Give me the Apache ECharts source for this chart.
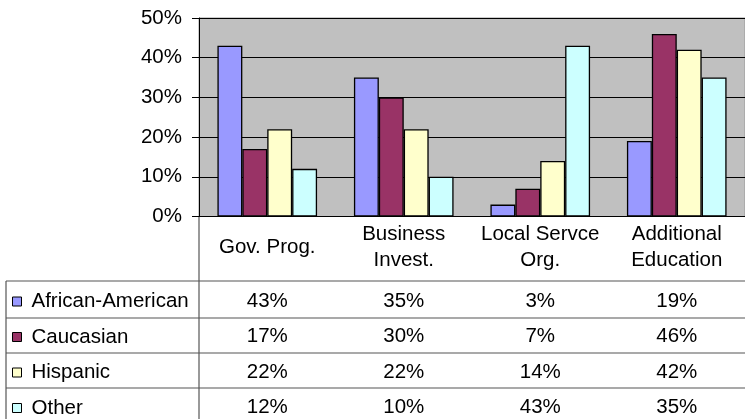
<!DOCTYPE html>
<html lang="en">
<head>
    <meta charset="UTF-8">
    <title>Chart</title>
    <script src="https://cdn.jsdelivr.net/npm/echarts@6/dist/echarts.min.js"></script>
    <style>
        html, body { margin: 0; padding: 0; background: #fff; }
    </style>
</head>
<body>
<div id="chart" style="width: 745px;height:419px"></div>
<script>
    // data table values (percent)
    var categories = ['Gov. Prog.', 'Business\nInvest.', 'Local Servce\nOrg.', 'Additional\nEducation'];
    var groups = ['African-American', 'Caucasian', 'Hispanic', 'Other'];
    var africanAmerican = [43, 35, 3, 19];
    var caucasian = [17, 30, 7, 46];
    var hispanic = [22, 22, 14, 42];
    var other = [12, 10, 43, 35];
    var yTicks = [0, 10, 20, 30, 40, 50];

    var rows = [africanAmerican, caucasian, hispanic, other];
    var colors = ['#9999FF', '#993366', '#FFFFCC', '#CCFFFF'];
    var font = 'Liberation Sans';
    var fs = 20.5;

    var chart = echarts.init(document.getElementById('chart'));

    var gridTop = 18, gridLeft = 199, gridH = 198.5, gridW = 554;
    var gridBottom = gridTop + gridH;
    var rowCenters = [301, 336.5, 372, 407.5];

    // extra x axes used as the rows of the data table
    var xAxes = [{
        type: 'category',
        data: categories,
        gridIndex: 0,
        axisLine: { show: true, lineStyle: { color: '#000', width: 1 } },
        axisTick: { show: false },
        axisLabel: {
            interval: 0,
            margin: 31,
            verticalAlign: 'middle',
            color: '#000',
            fontFamily: font,
            fontSize: fs,
            lineHeight: 26
        }
    }];
    rows.forEach(function (vals, r) {
        xAxes.push({
            type: 'category',
            data: categories,
            gridIndex: 0,
            position: 'bottom',
            axisLine: { show: false },
            axisTick: { show: false },
            splitLine: { show: false },
            axisLabel: {
                interval: 0,
                margin: rowCenters[r] - gridBottom,
                verticalAlign: 'middle',
                color: '#000',
                fontFamily: font,
                fontSize: fs,
                formatter: function (v, i) { return vals[i] + '%'; }
            }
        });
    });

    var series = rows.map(function (vals, r) {
        return {
            name: groups[r],
            type: 'bar',
            xAxisIndex: 0,
            data: vals,
            barGap: '0%',
            barCategoryGap: '27%',
            itemStyle: { color: colors[r], borderColor: '#000', borderWidth: 1.3 }
        };
    });

    // one legend per table row so each sits in its own cell
    var legends = groups.map(function (g, r) {
        return {
            orient: 'vertical',
            left: 12,
            top: rowCenters[r] - 10,
            padding: 0,
            itemWidth: 9,
            itemHeight: 9,
            icon: 'rect',
            itemStyle: { borderColor: '#000', borderWidth: 1 },
            textStyle: { color: '#000', fontFamily: font, fontSize: fs, lineHeight: 20, padding: [0, 0, 0, 5] },
            data: [g]
        };
    });

    var lineStyle = { stroke: '#555', lineWidth: 1.2 };
    var graphics = [
        { type: 'line', shape: { x1: gridLeft, y1: gridBottom, x2: gridLeft, y2: 419 }, style: lineStyle },
        { type: 'line', shape: { x1: 6, y1: 281, x2: 6, y2: 419 }, style: lineStyle }
    ];
    [281, 318, 353, 388].forEach(function (y) {
        graphics.push({ type: 'line', shape: { x1: 6, y1: y, x2: 745, y2: y }, style: lineStyle });
    });

    var option = {
        animation: false,
        textStyle: { fontFamily: font },
        grid: {
            show: true,
            left: gridLeft,
            top: gridTop,
            width: gridW,
            height: gridH,
            backgroundColor: '#C0C0C0',
            borderColor: '#999',
            borderWidth: 1
        },
        legend: legends,
        xAxis: xAxes,
        yAxis: {
            type: 'value',
            min: yTicks[0],
            max: yTicks[yTicks.length - 1],
            interval: 10,
            axisLine: { show: true, lineStyle: { color: '#000' } },
            axisTick: { show: true, length: 7, lineStyle: { color: '#000' } },
            splitLine: { show: true, lineStyle: { color: '#000', width: 1 } },
            axisLabel: {
                margin: 17,
                color: '#000',
                fontFamily: font,
                fontSize: fs,
                formatter: '{value}%'
            }
        },
        graphic: graphics,
        series: series
    };
    chart.setOption(option);
</script>
</body>
</html>
